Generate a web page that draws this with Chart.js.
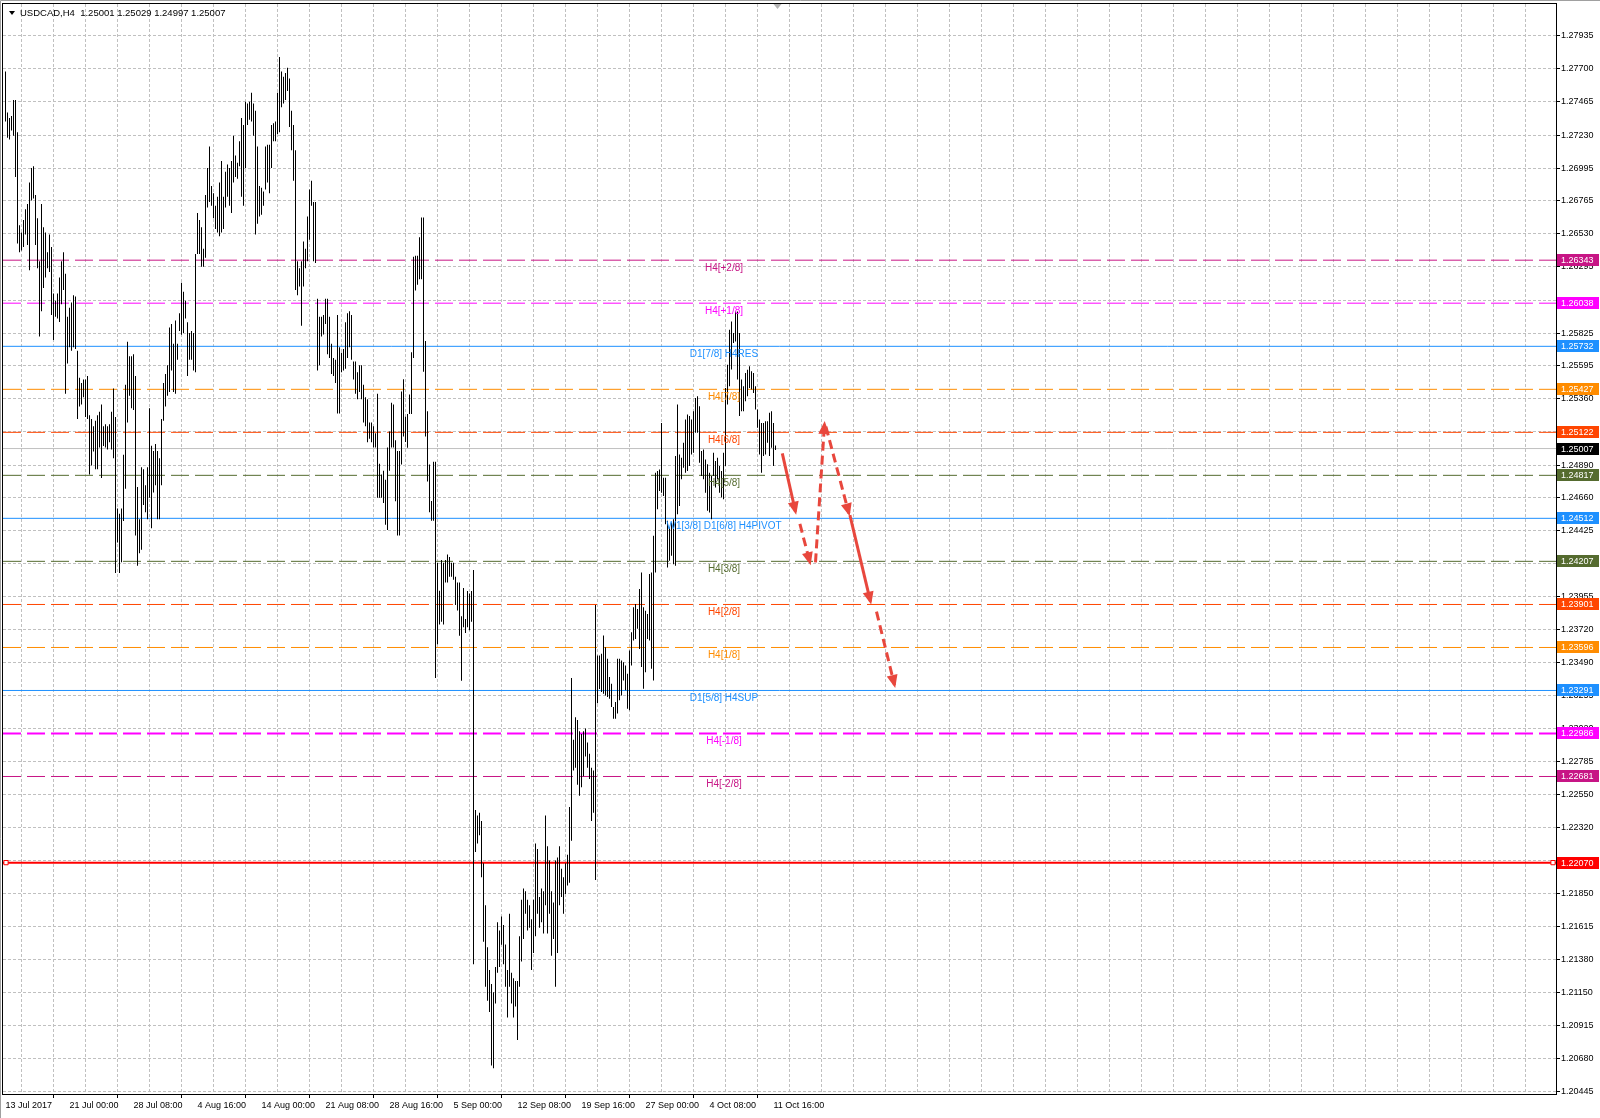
<!DOCTYPE html>
<html>
<head>
<meta charset="utf-8">
<title>USDCAD,H4</title>
<script src="https://cdn.jsdelivr.net/npm/chart.js@4.4.1/dist/chart.umd.min.js"></script>
<style>
  html, body { margin: 0; padding: 0; background: #fff; }
  #wrap { width: 1600px; height: 1118px; }
</style>
</head>
<body>
<div id="wrap"><canvas id="chart" width="1600" height="1118"></canvas></div>
<script>
const symbolTitle = 'USDCAD,H4  1.25001 1.25029 1.24997 1.25007';

// H4 bars, oldest first (high / low)
const highs = [
  1.27682, 1.27390, 1.27352, 1.27365, 1.27479, 1.27479, 1.27250, 1.26590, 1.26539, 1.26628,
  1.26704, 1.26742, 1.26894, 1.26996, 1.27009, 1.26806, 1.26640, 1.26335, 1.26742, 1.26577,
  1.26539, 1.26399, 1.26526, 1.26437, 1.26107, 1.26056, 1.26107, 1.26221, 1.26335, 1.26399,
  1.26246, 1.25942, 1.26005, 1.26043, 1.26094, 1.26086, 1.25700, 1.25509, 1.25471, 1.25497,
  1.25497, 1.25522, 1.25243, 1.25217, 1.25166, 1.25205, 1.25243, 1.25268, 1.25319, 1.25166,
  1.25179, 1.25166, 1.25179, 1.25268, 1.25433, 1.25230, 1.24582, 1.24544, 1.24582, 1.24963,
  1.25459, 1.25764, 1.25662, 1.25662, 1.25675, 1.25522, 1.24734, 1.24506, 1.24874, 1.24861,
  1.24747, 1.24874, 1.25293, 1.25027, 1.24989, 1.25039, 1.24989, 1.24938, 1.25217, 1.25471,
  1.25535, 1.25598, 1.25865, 1.25891, 1.25751, 1.25916, 1.25751, 1.25967, 1.26183, 1.26119,
  1.26056, 1.25903, 1.25827, 1.25840, 1.25827, 1.26386, 1.26678, 1.26628,
  1.26577, 1.26424, 1.26806, 1.26996, 1.27149, 1.26869, 1.26818, 1.26729, 1.26793, 1.26894,
  1.27047, 1.26793, 1.26971, 1.27022, 1.26996, 1.27047, 1.27225, 1.27085, 1.27034, 1.27187,
  1.27352, 1.27301, 1.27466, 1.27454, 1.27466, 1.27530, 1.27454, 1.27403, 1.27149, 1.26869,
  1.26856, 1.26831, 1.27149, 1.27161, 1.27161, 1.27301, 1.27314, 1.27327, 1.27530, 1.27784,
  1.27682, 1.27644, 1.27670, 1.27708, 1.27631, 1.27403, 1.27301, 1.27123, 1.26335, 1.26285,
  1.26335, 1.26475, 1.26424, 1.26653, 1.26844, 1.26907, 1.26755, 1.26755, 1.26069, 1.25942,
  1.25942, 1.25954, 1.26069, 1.26069, 1.25942, 1.25751, 1.25649, 1.25637, 1.25954, 1.25725,
  1.25687, 1.25713, 1.25903, 1.25967, 1.25980, 1.25954, 1.25624, 1.25624, 1.25548, 1.25598,
  1.25598, 1.25459, 1.25370, 1.25357, 1.25192, 1.25192, 1.25166, 1.25116, 1.25395, 1.24900,
  1.24823, 1.24849, 1.24785, 1.25014, 1.25128, 1.25332, 1.25319, 1.25065, 1.24989, 1.24989,
  1.25411, 1.25499, 1.25232, 1.25252, 1.25391, 1.25690, 1.26367, 1.26375, 1.26375, 1.26506,
  1.26646, 1.26646, 1.25770, 1.25272, 1.24894, 1.24635, 1.24913, 1.24913, 1.24197, 1.23998,
  1.24217, 1.24197, 1.24217, 1.24256, 1.24237, 1.24197, 1.24197, 1.24097, 1.24057, 1.24057,
  1.23818, 1.24017, 1.23798, 1.23997, 1.23978, 1.23997, 1.24145, 1.22444, 1.22405, 1.22424,
  1.22365, 1.22066, 1.21767, 1.21469, 1.21309, 1.21210, 1.21150, 1.21329, 1.21648, 1.21588,
  1.21688, 1.21628, 1.21489, 1.21309, 1.21708, 1.21289, 1.21250, 1.21230, 1.21230, 1.21548,
  1.21807, 1.21887, 1.21867, 1.21807, 1.21767, 1.21668, 1.21807, 1.22205, 1.22166, 1.21827,
  1.21887, 1.21867, 1.22405, 1.22186, 1.22086, 1.21867, 1.21787, 1.22086, 1.22106, 1.22186,
  1.22026, 1.21966, 1.22066, 1.22126, 1.22464, 1.23380, 1.22942, 1.23102, 1.23082, 1.23002,
  1.22982, 1.23002, 1.23022, 1.22922, 1.22843, 1.22743, 1.22723, 1.23898, 1.23539, 1.23539,
  1.23551, 1.23681, 1.23598, 1.23516, 1.23386, 1.23339, 1.23174, 1.23209, 1.23516, 1.23516,
  1.23504, 1.23492, 1.23468, 1.23410, 1.23575, 1.23704, 1.23881, 1.23905, 1.23869, 1.24011,
  1.24128, 1.23881, 1.23857, 1.23834, 1.24117, 1.24128, 1.24388, 1.24836, 1.24848, 1.24859,
  1.25189, 1.24800, 1.24800, 1.24494, 1.24447, 1.24482, 1.24506, 1.24954, 1.25319, 1.24965,
  1.24942, 1.25048, 1.25213, 1.25248, 1.25237, 1.25213, 1.25272, 1.25366, 1.25378, 1.25307,
  1.24989, 1.25001, 1.24930, 1.24895, 1.24836, 1.24812, 1.24977, 1.24918, 1.24942, 1.24883,
  1.24848, 1.24977, 1.25437, 1.25602, 1.25849, 1.25908, 1.25826, 1.25979, 1.25979, 1.25826,
  1.25496, 1.25449, 1.25543, 1.25566, 1.25590, 1.25555, 1.25543, 1.25449, 1.25284, 1.25213,
  1.25189, 1.25189, 1.25201, 1.25201, 1.25260, 1.25272, 1.25189, 1.25029
];
const lows = [
  1.27327, 1.27212, 1.27199, 1.27263, 1.27225, 1.26933, 1.26462, 1.26399, 1.26412, 1.26437,
  1.26526, 1.26450, 1.26272, 1.26767, 1.26780, 1.26450, 1.26285, 1.25802, 1.25980, 1.26145,
  1.26221, 1.26285, 1.26259, 1.25954, 1.25776, 1.25942, 1.25929, 1.25904, 1.26030, 1.26132,
  1.25395, 1.25611, 1.25725, 1.25700, 1.25725, 1.25713, 1.25217, 1.25306, 1.25319, 1.25370,
  1.25230, 1.25217, 1.24823, 1.24887, 1.24986, 1.24861, 1.24861, 1.25014, 1.24798, 1.25025,
  1.25014, 1.25001, 1.25052, 1.25001, 1.24938, 1.24125, 1.24341, 1.24125, 1.24201, 1.24493,
  1.24722, 1.25192, 1.25382, 1.25293, 1.25281, 1.24391, 1.24175, 1.24264, 1.24290, 1.24607,
  1.24556, 1.24506, 1.24658, 1.24442, 1.24696, 1.24747, 1.24506, 1.24506, 1.24747, 1.25205,
  1.25306, 1.25382, 1.25408, 1.25560, 1.25408, 1.25395, 1.25637, 1.25840, 1.25814, 1.25827,
  1.25929, 1.25522, 1.25637, 1.25637, 1.25560, 1.25548, 1.26386, 1.26386,
  1.26297, 1.26297, 1.26361, 1.26717, 1.26755, 1.26729, 1.26640, 1.26564, 1.26539, 1.26513,
  1.26539, 1.26564, 1.26717, 1.26793, 1.26729, 1.26678, 1.26894, 1.26933, 1.26920, 1.27009,
  1.26793, 1.26729, 1.26996, 1.27301, 1.27339, 1.27327, 1.27225, 1.26526, 1.26602, 1.26653,
  1.26666, 1.26729, 1.26844, 1.26894, 1.26818, 1.26996, 1.27187, 1.27187, 1.27238, 1.27250,
  1.27428, 1.27454, 1.27479, 1.27543, 1.27288, 1.27123, 1.26907, 1.26132, 1.26094, 1.26157,
  1.25878, 1.26157, 1.26285, 1.26335, 1.26488, 1.26729, 1.26335, 1.26323, 1.25560, 1.25598,
  1.25802, 1.25815, 1.25891, 1.25675, 1.25649, 1.25535, 1.25522, 1.25471, 1.25255, 1.25255,
  1.25548, 1.25560, 1.25573, 1.25649, 1.25725, 1.25637, 1.25497, 1.25395, 1.25357, 1.25408,
  1.25357, 1.25192, 1.25166, 1.25052, 1.25077, 1.25052, 1.25014, 1.25014, 1.24658, 1.24658,
  1.24658, 1.24620, 1.24467, 1.24429, 1.24849, 1.25014, 1.25014, 1.24633, 1.24391, 1.24391,
  1.24894, 1.25093, 1.25053, 1.25013, 1.25252, 1.25252, 1.25650, 1.26128, 1.26168, 1.26208,
  1.26208, 1.25551, 1.25093, 1.24774, 1.24555, 1.24495, 1.24495, 1.23380, 1.23619, 1.23759,
  1.23778, 1.23759, 1.24057, 1.24057, 1.24097, 1.24097, 1.24077, 1.23898, 1.23858, 1.23679,
  1.23360, 1.23739, 1.23699, 1.23739, 1.23719, 1.23778, 1.21349, 1.22146, 1.22205, 1.22265,
  1.21966, 1.21508, 1.21190, 1.21090, 1.21011, 1.20632, 1.20612, 1.21070, 1.21289, 1.21329,
  1.21488, 1.21349, 1.21190, 1.20971, 1.21190, 1.21070, 1.20971, 1.21050, 1.20812, 1.21190,
  1.21369, 1.21528, 1.21708, 1.21588, 1.21608, 1.21309, 1.21429, 1.21548, 1.21708, 1.21608,
  1.21648, 1.21568, 1.21767, 1.21568, 1.21708, 1.21409, 1.21528, 1.21190, 1.21429, 1.21767,
  1.21827, 1.21708, 1.21847, 1.21907, 1.21927, 1.22225, 1.22723, 1.22743, 1.22623, 1.22544,
  1.22604, 1.22683, 1.22823, 1.22743, 1.22663, 1.22365, 1.22424, 1.21946, 1.23201, 1.23301,
  1.23280, 1.23268, 1.23256, 1.23245, 1.23233, 1.23174, 1.23091, 1.23091, 1.23127, 1.23221,
  1.23256, 1.23362, 1.23292, 1.23162, 1.23150, 1.23468, 1.23645, 1.23657, 1.23728, 1.23586,
  1.23457, 1.23303, 1.23421, 1.23657, 1.23645, 1.23445, 1.23362, 1.24128, 1.24577, 1.24706,
  1.24694, 1.24671, 1.24470, 1.24164, 1.24211, 1.24246, 1.24187, 1.24176, 1.24541, 1.24600,
  1.24789, 1.24871, 1.24836, 1.24848, 1.24883, 1.24965, 1.24977, 1.25119, 1.25119, 1.24906,
  1.24812, 1.24789, 1.24694, 1.24565, 1.24553, 1.24506, 1.24812, 1.24730, 1.24789, 1.24694,
  1.24659, 1.24647, 1.24883, 1.25319, 1.25449, 1.25567, 1.25755, 1.25767, 1.25496, 1.25237,
  1.25272, 1.25272, 1.25343, 1.25378, 1.25437, 1.25425, 1.25401, 1.25284, 1.25154, 1.24965,
  1.24836, 1.24954, 1.24965, 1.25048, 1.24954, 1.25013, 1.24883, 1.24997
];

// time axis: one label every 32 bars, grid every 16 bars
const dateLabels = ['13 Jul 2017', '21 Jul 00:00', '28 Jul 08:00', '4 Aug 16:00', '14 Aug 00:00',
  '21 Aug 08:00', '28 Aug 16:00', '5 Sep 00:00', '12 Sep 08:00', '19 Sep 16:00',
  '27 Sep 00:00', '4 Oct 08:00', '11 Oct 16:00'];
const labelStep = 32;
const gridStep = 16;

const priceTicks = [1.27935, 1.27700, 1.27465, 1.27230, 1.26995, 1.26765, 1.26530, 1.26295,
  1.26060, 1.25825, 1.25595, 1.25360, 1.25125, 1.24890, 1.24660, 1.24425, 1.24190, 1.23955,
  1.23720, 1.23490, 1.23255, 1.23020, 1.22785, 1.22550, 1.22320, 1.22085, 1.21850, 1.21615,
  1.21380, 1.21150, 1.20915, 1.20680, 1.20445];

// Murrey math levels
const levelPrices = [1.26343, 1.26038, 1.25732, 1.25427, 1.25122, 1.24817, 1.24512,
  1.24207, 1.23901, 1.23596, 1.23291, 1.22986, 1.22681];
const levelNames = ['H4[+2/8]', 'H4[+1/8]', 'D1[7/8] H4RES', 'H4[7/8]', 'H4[6/8]', 'H4[5/8]',
  'W1[3/8] D1[6/8] H4PIVOT', 'H4[3/8]', 'H4[2/8]', 'H4[1/8]', 'D1[5/8] H4SUP', 'H4[-1/8]', 'H4[-2/8]'];
const levelColors = ['#c71585', '#ff00ff', '#1e90ff', '#ff8c00', '#ff4500', '#556b2f', '#1e90ff',
  '#556b2f', '#ff4500', '#ff8c00', '#1e90ff', '#ff00ff', '#c71585'];
const levelDashed = [true, true, false, true, true, true, false, true, true, true, false, true, true];

const currentPrice = 1.25007;
const stopPrice = 1.22070;

// hand drawn forecast arrows: [bar index, price] pairs
const arrowPaths = [
  [[388.4, 1.24973], [395.0, 1.24559]],
  [[397.2, 1.24472], [402.2, 1.24200]],
  [[405.0, 1.24200], [409.5, 1.25181]],
  [[410.2, 1.25162], [421.7, 1.24547]],
  [[422.2, 1.24535], [432.5, 1.23921]],
  [[435.5, 1.23850], [444.5, 1.23330]]
];
const arrowDashed = [false, true, true, true, false, true];

if (highs.length !== lows.length) console.error('bar arrays differ', highs.length, lows.length);

const X_MIN = -1.25, X_MAX = 775.25;
const FONT = '"Liberation Sans", Arial, sans-serif';
const ARROW_COLOR = '#e8473d';
const labelAtBar = 359.25;

const datasets = [];

datasets.push({
  type: 'bar',
  label: 'USDCAD',
  data: highs.map((h, i) => ({ x: i, y: [lows[i], h] })),
  backgroundColor: '#000',
  borderWidth: 0,
  barThickness: 1,
  inflateAmount: 0,
  order: 1
});

levelPrices.forEach((p, i) => {
  datasets.push({
    type: 'line',
    data: [{ x: X_MIN, y: p }, { x: X_MAX, y: p }],
    borderColor: levelColors[i],
    borderWidth: levelNames[i] === 'H4[-1/8]' ? 2 : 1,
    borderDash: levelDashed[i] ? [18, 6] : [],
    pointRadius: 0,
    order: 2
  });
});

datasets.push({
  type: 'line',
  data: [{ x: X_MIN, y: currentPrice }, { x: X_MAX, y: currentPrice }],
  borderColor: '#c0c0c0', borderWidth: 1, pointRadius: 0, order: 3
});

datasets.push({
  type: 'line',
  data: [{ x: X_MIN, y: stopPrice }, { x: 0.25, y: stopPrice }, { x: 773.75, y: stopPrice }, { x: X_MAX, y: stopPrice }],
  borderColor: '#ff0000', borderWidth: 2,
  pointRadius: [0, 3, 3, 0], pointStyle: 'rect',
  pointBackgroundColor: '#fff', pointBorderColor: '#ff0000', pointBorderWidth: 1,
  order: 2
});

arrowPaths.forEach((path, i) => {
  datasets.push({
    type: 'line',
    arrow: true,
    data: path.map(pt => ({ x: pt[0], y: pt[1] })),
    borderColor: ARROW_COLOR,
    borderWidth: 3,
    borderDash: arrowDashed[i] ? [9, 5] : [],
    borderCapStyle: 'butt',
    pointRadius: 0,
    order: 0
  });
});

const decor = {
  id: 'decor',
  beforeDraw(chart) {
    const c = chart.ctx;
    c.save();
    c.fillStyle = '#fff';
    c.fillRect(0, 0, chart.width, chart.height);
    c.restore();
  },
  afterDatasetsDraw(chart) {
    const c = chart.ctx;
    const { x, y } = chart.scales;

    // arrow heads
    chart.data.datasets.forEach((ds, di) => {
      if (!ds.arrow) return;
      const pts = chart.getDatasetMeta(di).data;
      const a = pts[pts.length - 2], b = pts[pts.length - 1];
      const ang = Math.atan2(b.y - a.y, b.x - a.x);
      c.save();
      c.translate(b.x, b.y);
      c.rotate(ang);
      c.fillStyle = ds.borderColor;
      c.beginPath();
      c.moveTo(3, 0);
      c.lineTo(-10, -5.5);
      c.lineTo(-10, 5.5);
      c.closePath();
      c.fill();
      c.restore();
    });

    // level captions, hanging just under each line
    c.save();
    c.font = '10px ' + FONT;
    c.textAlign = 'center';
    c.textBaseline = 'middle';
    levelPrices.forEach((p, i) => {
      c.fillStyle = levelColors[i];
      c.fillText(levelNames[i], x.getPixelForValue(labelAtBar), y.getPixelForValue(p) + 8);
    });
    c.restore();
  },
  afterDraw(chart) {
    const c = chart.ctx;
    const { x, y } = chart.scales;
    const area = chart.chartArea;
    c.save();

    // frame
    c.strokeStyle = '#000';
    c.lineWidth = 1;
    c.strokeRect(area.left - 0.5, area.top - 0.5, area.right - area.left + 1, area.bottom - area.top + 1);
    c.strokeStyle = '#a0a0a0';
    c.beginPath();
    c.moveTo(0.5, chart.height);
    c.lineTo(0.5, 0.5);
    c.lineTo(chart.width, 0.5);
    c.stroke();

    // price boxes on the right axis
    c.font = '9px ' + FONT;
    c.textAlign = 'left';
    c.textBaseline = 'middle';
    const boxes = levelPrices.map((p, i) => [p, levelColors[i]])
      .concat([[currentPrice, '#000'], [stopPrice, '#ff0000']]);
    boxes.forEach(([p, col]) => {
      const py = Math.round(y.getPixelForValue(p));
      c.fillStyle = col;
      c.fillRect(area.right + 1, py - 6, 42, 12);
      c.fillStyle = '#fff';
      c.fillText(p.toFixed(5), area.right + 5, py + 0.5);
    });

    // title in the upper left corner
    c.fillStyle = '#000';
    c.beginPath();
    c.moveTo(9, 11);
    c.lineTo(15, 11);
    c.lineTo(12, 15);
    c.closePath();
    c.fill();
    c.font = '9.5px ' + FONT;
    c.fillText(symbolTitle, 20, 13);

    // chart shift marker
    c.fillStyle = '#b4b4b4';
    const sx = x.getPixelForValue(386);
    c.beginPath();
    c.moveTo(sx - 4, area.top);
    c.lineTo(sx + 4, area.top);
    c.lineTo(sx, area.top + 5);
    c.closePath();
    c.fill();

    c.restore();
  }
};

Chart.defaults.font.family = FONT;

new Chart(document.getElementById('chart').getContext('2d'), {
  type: 'bar',
  data: { datasets: datasets },
  options: {
    responsive: false,
    maintainAspectRatio: false,
    devicePixelRatio: 1,
    animation: false,
    events: [],
    layout: { padding: { left: 3, top: 4, right: 0, bottom: 0 } },
    plugins: { legend: { display: false }, tooltip: { enabled: false } },
    scales: {
      x: {
        type: 'linear',
        min: X_MIN,
        max: X_MAX,
        offset: false,
        afterBuildTicks: s => {
          const t = [];
          for (let v = 0; v <= X_MAX; v += gridStep) t.push({ value: v });
          s.ticks = t;
        },
        afterFit: s => { s.height = 24; s.paddingLeft = 0; s.paddingRight = 0; },
        grid: {
          color: '#c0c0c0',
          tickLength: 4,
          tickBorderDash: [],
          tickColor: ctx => (ctx.tick && ctx.tick.value % labelStep === 0 &&
            ctx.tick.value / labelStep < dateLabels.length) ? '#000' : 'rgba(0,0,0,0)'
        },
        border: { display: false, dash: [3, 2] },
        ticks: {
          autoSkip: false,
          maxRotation: 0,
          align: 'start',
          padding: 2,
          color: '#000',
          font: { size: 9 },
          callback: v => (v % labelStep === 0 && v / labelStep < dateLabels.length) ? dateLabels[v / labelStep] : ''
        }
      },
      y: {
        type: 'linear',
        position: 'right',
        min: 1.20429,
        max: 1.28160,
        afterBuildTicks: s => { s.ticks = priceTicks.map(v => ({ value: v })); },
        afterFit: s => { s.width = 44; s.paddingTop = 0; s.paddingBottom = 0; },
        grid: { color: '#c0c0c0', tickLength: 4, tickColor: '#000', tickBorderDash: [] },
        border: { display: false, dash: [3, 2] },
        ticks: {
          autoSkip: false,
          padding: 1,
          color: '#000',
          font: { size: 9 },
          callback: v => Number(v).toFixed(5)
        }
      }
    }
  },
  plugins: [decor]
});
</script>
</body>
</html>
